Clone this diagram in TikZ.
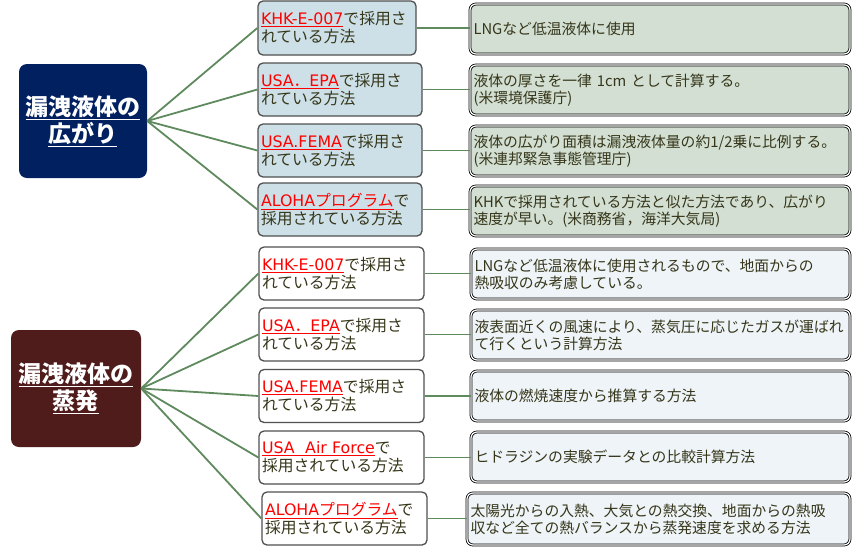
\documentclass[tikz,border=0pt]{standalone}
\usepackage{fontspec}
\setmainfont{Noto Sans CJK JP}
\newfontfamily\latw{DejaVu Sans}
\usetikzlibrary{calc}
\definecolor{navy}{HTML}{002060}
\definecolor{maroon}{HTML}{4F1B1B}
\definecolor{midblue}{HTML}{CDE0E7}
\definecolor{rightgreen}{HTML}{D2DFD2}
\definecolor{rightpale}{HTML}{EEF4F7}
\definecolor{txt}{HTML}{36361A}
\definecolor{conn}{HTML}{5E8A5E}
\definecolor{midborder}{HTML}{505050}
\newcommand{\rd}[1]{\textcolor{red}{\underline{#1}}}
\begin{document}
\begin{tikzpicture}[x=1pt,y=-1pt,
  rootbox/.style={rectangle, rounded corners=8pt, draw=none, text=white,
    font=\fontsize{23}{27}\selectfont\bfseries, align=center, inner sep=0pt},
  midbox/.style={rectangle, rounded corners=5pt, draw=midborder, line width=1.3pt,
    text=txt, font=\fontsize{15.8}{18}\selectfont, align=left, inner xsep=3pt, inner ysep=0pt},
  rightbox/.style={rectangle, rounded corners=6pt, draw=black, double=white,
    double distance=1.2pt, line width=0.8pt, text=txt,
    font=\fontsize{14.8}{17}\selectfont, align=left, inner xsep=3.5pt, inner ysep=0pt},
  link/.style={draw=conn, line width=1.8pt}]
\useasboundingbox (0,0) rectangle (863,547);

% ---------- top group ----------
\node[rootbox, fill=navy, minimum width=128pt, minimum height=114pt] (L1) at (83,121)
  {\underline{漏洩液体の}\\\underline{広がり}};

\node[midbox, fill=midblue, minimum width=158pt, minimum height=54pt, text width=152pt] (m1) at (337,28)
  {\rd{{\latw KHK-E-007}}で採用さ\\れている方法};
\node[midbox, fill=midblue, minimum width=164pt, minimum height=53pt, text width=158pt] (m2) at (340,89.5)
  {\rd{{\latw USA}．{\latw EPA}}で採用さ\\れている方法};
\node[midbox, fill=midblue, minimum width=164pt, minimum height=53pt, text width=158pt] (m3) at (340,150.5)
  {\rd{{\latw USA.FEMA}}で採用さ\\れている方法};
\node[midbox, fill=midblue, minimum width=164pt, minimum height=53pt, text width=158pt] (m4) at (340,209.5)
  {\rd{{\latw ALOHA}プログラム}で\\採用されている方法};

\node[rightbox, fill=rightgreen, minimum width=380pt, minimum height=50pt, text width=373pt] (r1) at (660,29)
  {LNGなど低温液体に使用};
\node[rightbox, fill=rightgreen, minimum width=380pt, minimum height=50pt, text width=373pt] (r2) at (660,90)
  {液体の厚さを一律 1cm として計算する。\\(米環境保護庁)};
\node[rightbox, fill=rightgreen, minimum width=380pt, minimum height=50pt, text width=373pt] (r3) at (660,151)
  {液体の広がり面積は漏洩液体量の約1/2乗に比例する。\\(米連邦緊急事態管理庁)};
\node[rightbox, fill=rightgreen, minimum width=380pt, minimum height=50pt, text width=373pt] (r4) at (660,211)
  {KHKで採用されている方法と似た方法であり、広がり\\速度が早い。(米商務省，海洋大気局)};

% ---------- bottom group ----------
\node[rootbox, fill=maroon, minimum width=130pt, minimum height=117pt] (L2) at (76,388.5)
  {\underline{漏洩液体の}\\\underline{蒸発}};

\node[midbox, fill=white, minimum width=165pt, minimum height=53pt, text width=159pt] (n1) at (341.5,273.5)
  {\rd{{\latw KHK-E-007}}で採用さ\\れている方法};
\node[midbox, fill=white, minimum width=165pt, minimum height=53pt, text width=159pt] (n2) at (341.5,334.5)
  {\rd{{\latw USA}．{\latw EPA}}で採用さ\\れている方法};
\node[midbox, fill=white, minimum width=165pt, minimum height=53pt, text width=159pt] (n3) at (341.5,396)
  {\rd{{\latw USA.FEMA}}で採用さ\\れている方法};
\node[midbox, fill=white, minimum width=165pt, minimum height=53pt, text width=159pt] (n4) at (341.5,457.5)
  {\rd{{\latw USA\ \ Air Force}}で\\採用されている方法};
\node[midbox, fill=white, minimum width=165pt, minimum height=53pt, text width=159pt] (n5) at (344.5,518.5)
  {\rd{{\latw ALOHA}プログラム}で\\採用されている方法};

\node[rightbox, fill=rightpale, minimum width=379pt, minimum height=50pt, text width=372pt] (s1) at (660.5,274)
  {LNGなど低温液体に使用されるもので、地面からの\\熱吸収のみ考慮している。};
\node[rightbox, fill=rightpale, minimum width=379pt, minimum height=50pt, text width=372pt] (s2) at (660.5,335)
  {液表面近くの風速により、蒸気圧に応じたガスが運ばれ\\て行くという計算方法};
\node[rightbox, fill=rightpale, minimum width=379pt, minimum height=50pt, text width=372pt] (s3) at (660.5,396)
  {液体の燃焼速度から推算する方法};
\node[rightbox, fill=rightpale, minimum width=379pt, minimum height=50pt, text width=372pt] (s4) at (660.5,457)
  {ヒドラジンの実験データとの比較計算方法};
\node[rightbox, fill=rightpale, minimum width=383pt, minimum height=52pt, text width=376pt] (s5) at (658.5,519)
  {太陽光からの入熱、大気との熱交換、地面からの熱吸\\収など全ての熱バランスから蒸発速度を求める方法};

% ---------- connectors ----------
\foreach \m in {m1,m2,m3,m4} \draw[link] (L1.east) -- (\m.west);
\foreach \m in {n1,n2,n3,n4,n5} \draw[link] (L2.east) -- (\m.west);
\foreach \a/\b in {m1/r1,m2/r2,m3/r3,m4/r4,n1/s1,n2/s2,n3/s3,n4/s4,n5/s5}
  \draw[link] (\a.east) -- (\a.east -| \b.west);
\end{tikzpicture}
\end{document}
